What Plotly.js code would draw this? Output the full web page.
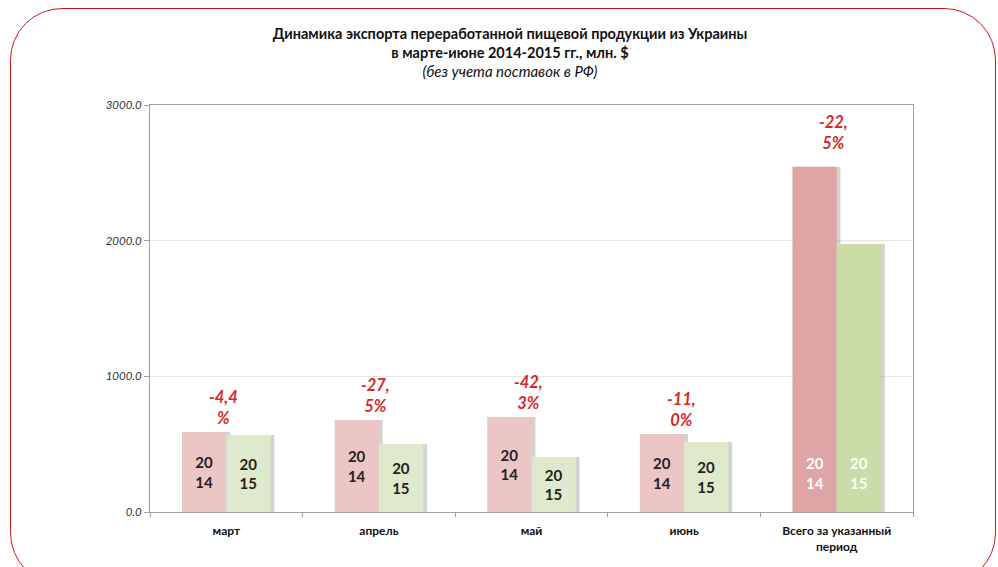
<!DOCTYPE html>
<html>
<head>
<meta charset="utf-8">
<script src="https://cdn.plot.ly/plotly-3.0.1.min.js"></script>
<style>
  body { margin: 0; background: #fff; }
  #wrap { position: relative; width: 998px; height: 567px; overflow: hidden; }
  #chart { position: absolute; left: 0; top: 0; width: 998px; height: 567px; }
  #frame {
    position: absolute; left: 10px; top: 8px; width: 984px; height: 575px;
    border: 1.5px solid #d01818; border-radius: 52px; pointer-events: none;
  }
</style>
</head>
<body>
<div id="wrap">
  <div id="chart"></div>
  <div id="frame"></div>
</div>
<script>
var categories = ['март', 'апрель', 'май', 'июнь', 'Всего за указанный<br>период'];
var values2014 = [590, 678, 700, 575, 2545];
var values2015 = [567, 501, 405, 515, 1975];
var changeLabels = ['-4,4<br>%', '-27,<br>5%', '-42,<br>3%', '-11,<br>0%', '-22,<br>5%'];
var yearLabels = ['20<br>14', '20<br>15'];

var font = 'Lato, "Open Sans", sans-serif';
var barW = 0.29;
var last = categories.length - 1;

function colorsFor(light, dark) {
    return categories.map(function(c, i) { return i === last ? dark : light; });
}

function monthText(label) {
    return categories.map(function(c, i) { return i === last ? '' : label; });
}

var shadow = function(vals, offset) {
    return {
        x: categories, y: vals, type: 'bar',
        width: barW, offset: offset + 0.025,
        marker: { color: 'rgba(110,110,110,0.3)' },
        hoverinfo: 'skip', showlegend: false
    };
};

var barFont = { family: font, size: 15, color: '#222', weight: 'bold' };

var data = [
    shadow(values2014, -barW),
    {
        x: categories, y: values2014, type: 'bar', name: '2014',
        width: barW, offset: -barW,
        marker: { color: colorsFor('#ecc5c5', '#dfa4a4') },
        text: monthText(yearLabels[0]), textposition: 'inside', textangle: 0,
        insidetextanchor: 'middle', constraintext: 'none',
        insidetextfont: barFont
    },
    shadow(values2015, 0),
    {
        x: categories, y: values2015, type: 'bar', name: '2015',
        width: barW, offset: 0,
        marker: { color: colorsFor('#dfe9cc', '#cadca8') },
        text: monthText(yearLabels[1]), textposition: 'inside', textangle: 0,
        insidetextanchor: 'middle', constraintext: 'none',
        insidetextfont: barFont
    }
];

var annotations = [];
categories.forEach(function(c, i) {
    annotations.push({
        x: i, y: Math.max(values2014[i], values2015[i]),
        xref: 'x', yref: 'y', yanchor: 'bottom', yshift: i === last ? 12 : 2, xshift: -3,
        text: changeLabels[i], showarrow: false,
        font: { family: font, size: 16.5, color: '#d42a2a', style: 'italic', weight: 'bold' }
    });
});
// year labels on the total bars sit low, not in the middle
[-22, 22].forEach(function(shift, k) {
    annotations.push({
        x: last, y: 285, xref: 'x', yref: 'y', xshift: shift,
        text: yearLabels[k], showarrow: false,
        font: { family: font, size: 15, color: '#ffffff', weight: 'bold' }
    });
});

var layout = {
    width: 998, height: 567,
    margin: { l: 150, r: 85, t: 105, b: 55 },
    paper_bgcolor: 'rgba(0,0,0,0)',
    plot_bgcolor: '#ffffff',
    barmode: 'overlay',
    showlegend: false,
    title: {
        text: '<b>Динамика экспорта переработанной пищевой продукции из Украины<br>в марте-июне 2014-2015 гг., млн. $</b><br><i style="font-weight:normal;font-size:15px">(без учета поставок в РФ)</i>',
        x: 0.511, xanchor: 'center', y: 0.931, yanchor: 'top',
        font: { family: font, size: 14.5, color: '#111' }
    },
    xaxis: {
        type: 'category',
        showline: true, linecolor: '#a0a0a0', linewidth: 1, mirror: true,
        ticks: 'outside', tickson: 'boundaries', ticklen: 4, tickcolor: '#a0a0a0',
        ticklabelstandoff: 8,
        tickfont: { family: font, size: 12, color: '#111', weight: 'bold' },
        range: [-0.5, 4.5]
    },
    yaxis: {
        range: [0, 3000], tickvals: [0, 1000, 2000, 3000], tickformat: '.1f',
        showline: true, linecolor: '#a0a0a0', linewidth: 1, mirror: true,
        ticks: 'outside', ticklen: 5, tickcolor: '#a0a0a0',
        showgrid: true, gridcolor: '#e6e6e6', zeroline: false,
        tickfont: { family: font, size: 11.5, color: '#333', style: 'italic' }
    },
    annotations: annotations
};

Plotly.newPlot('chart', data, layout, { staticPlot: true });
</script>
</body>
</html>
